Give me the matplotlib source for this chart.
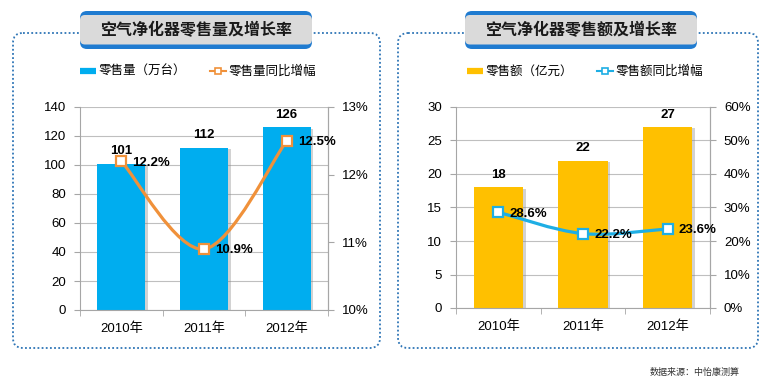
import numpy as np
import matplotlib
matplotlib.use("Agg")
import matplotlib.pyplot as plt
from matplotlib.patches import FancyBboxPatch, PathPatch
from matplotlib.path import Path
from matplotlib.lines import Line2D
from matplotlib import patheffects as pe
from matplotlib.ticker import FuncFormatter

plt.rcParams['font.family'] = ['Liberation Sans', 'Noto Sans CJK SC']

# ---------------- data ----------------
years = ["2010年", "2011年", "2012年"]
volume = [101, 112, 126]            # 零售量（万台）
volume_growth = [12.2, 10.9, 12.5]  # 零售量同比增幅 %
sales = [18, 22, 27]                # 零售额（亿元）
sales_growth = [28.6, 22.2, 23.6]   # 零售额同比增幅 %

title_left = "空气净化器零售量及增长率"
title_right = "空气净化器零售额及增长率"
legend_left = ["零售量（万台）", "零售量同比增幅"]
legend_right = ["零售额（亿元）", "零售额同比增幅"]
source_text = "数据来源：中怡康测算"

W, H = 772, 388
fig = plt.figure(figsize=(W / 100, H / 100), dpi=100)

# ---------------- decorations (pixel coordinates) ----------------
bg = fig.add_axes([0, 0, 1, 1], zorder=0)
bg.set_xlim(0, W)
bg.set_ylim(H, 0)
bg.axis('off')

dot_col = "#2E75B6"
for (x0, x1) in [(13, 380), (398, 758)]:
    bg.add_patch(FancyBboxPatch((x0, 33), x1 - x0, 315,
                                boxstyle="round,pad=0,rounding_size=10",
                                fill=False, edgecolor=dot_col, lw=1.3,
                                linestyle=(0, (1, 1.3))))

title_blue = "#1F7BD0"
for (x0, x1, t) in [(80, 312, title_left), (465, 697, title_right)]:
    bg.add_patch(FancyBboxPatch((x0, 11), x1 - x0, 38,
                                boxstyle="round,pad=0,rounding_size=7",
                                facecolor=title_blue, edgecolor='none', zorder=2))
    bg.add_patch(FancyBboxPatch((x0, 15), x1 - x0, 29.5,
                                boxstyle="round,pad=0,rounding_size=5",
                                facecolor="#DADADA", edgecolor='none', zorder=3))
    bg.text((x0 + x1) / 2, 30, t, ha='center', va='center', fontsize=11.5,
            fontweight='bold', color='#1A1A1A', zorder=4)

bg.text(695, 372, source_text, ha='center', va='center', fontsize=6.5, color='#333333')


def smooth_path(xs, ys):
    pts = np.column_stack([xs, ys]).astype(float)
    n = len(pts)
    verts = [pts[0]]
    codes = [Path.MOVETO]
    for i in range(n - 1):
        p0 = pts[i - 1] if i > 0 else pts[i]
        p1 = pts[i]
        p2 = pts[i + 1]
        p3 = pts[i + 2] if i + 2 < n else pts[i + 1]
        c1 = p1 + (p2 - p0) / 6
        c2 = p2 - (p3 - p1) / 6
        verts += [c1, c2, p2]
        codes += [Path.CURVE4] * 3
    return Path(verts, codes)


grid_col = "#BFBFBF"
spine_col = "#A6A6A6"
fs = 9.5


def panel(rect, bars, bar_col, growth, line_col, ylim, yticks, y2lim, y2ticks,
          legend_labels, legend_center):
    ax = fig.add_axes(rect, zorder=2)
    ax.patch.set_visible(False)
    x = np.arange(len(years))
    shadow = [pe.SimplePatchShadow(offset=(2, -1), shadow_rgbFace='#808080', alpha=0.35),
              pe.Normal()]
    b = ax.bar(x, bars, width=0.58, color=bar_col, zorder=2)
    for p in b:
        p.set_path_effects(shadow)
    ax.set_xlim(-0.5, len(years) - 0.5)
    ax.set_ylim(*ylim)
    ax.set_yticks(yticks)
    ax.grid(axis='y', color=grid_col, lw=0.8)
    ax.set_axisbelow(True)
    ax.set_xticks(x)
    ax.set_xticklabels(years)
    ax.set_xticks(np.arange(-0.5, len(years)), minor=True)
    ax.tick_params(axis='x', which='major', length=0, pad=9, labelsize=fs)
    ax.tick_params(axis='x', which='minor', length=4, color=spine_col, direction='out')
    ax.tick_params(axis='y', length=4, color=spine_col, pad=6, labelsize=fs)
    for s in ['top']:
        ax.spines[s].set_visible(False)
    for s in ['left', 'right', 'bottom']:
        ax.spines[s].set_color(spine_col)
    for xi, v in zip(x, bars):
        ax.annotate(f"{v}", (xi, v), xytext=(0, 9), textcoords='offset points',
                    ha='center', va='center', fontsize=9.5, fontweight='bold')

    ax2 = ax.twinx()
    ax2.set_zorder(3)
    ax2.patch.set_visible(False)
    ax2.set_ylim(*y2lim)
    ax2.set_yticks(y2ticks)
    ax2.yaxis.set_major_formatter(FuncFormatter(lambda v, p: f"{v:.0f}%"))
    ax2.tick_params(axis='y', length=4, color=spine_col, pad=6, labelsize=fs)
    for s in ['top', 'left', 'bottom']:
        ax2.spines[s].set_visible(False)
    ax2.spines['right'].set_color(spine_col)
    ax2.add_patch(PathPatch(smooth_path(x, growth), facecolor='none',
                            edgecolor=line_col, lw=2.3, zorder=3,
                            capstyle='round', joinstyle='round'))
    ax2.plot(x, growth, linestyle='none', marker='s', markersize=6.5,
             mfc='white', mec=line_col, mew=1.6, zorder=4)
    for xi, v in zip(x, growth):
        ax2.annotate(f"{v:.1f}%", (xi, v), xytext=(8, -1), textcoords='offset points',
                     ha='left', va='center', fontsize=9.5, fontweight='bold')

    handles = [Line2D([], [], color=bar_col, lw=4.5, solid_capstyle='butt'),
               Line2D([], [], color=line_col, lw=1.5, marker='s', markersize=5,
                      mfc='white', mec=line_col, mew=1.2)]
    fig.legend(handles, legend_labels, loc='center', bbox_to_anchor=legend_center,
               ncol=2, frameon=False, fontsize=9, handlelength=1.3,
               handletextpad=0.2, columnspacing=1.9)
    return ax, ax2


panel([80 / W, (H - 310) / H, (328 - 80) / W, (310 - 107) / H],
      volume, "#00ADEF", volume_growth, "#F0913A",
      (0, 140), np.arange(0, 141, 20), (10, 13), [10, 11, 12, 13],
      legend_left, (198 / W, (H - 72) / H))

panel([456 / W, (H - 308) / H, (710 - 456) / W, (308 - 107) / H],
      sales, "#FFC000", sales_growth, "#1EAEE4",
      (0, 30), np.arange(0, 31, 5), (0, 60), np.arange(0, 61, 10),
      legend_right, (585 / W, (H - 72) / H))

fig.savefig("out.png", dpi=100, facecolor='white')
